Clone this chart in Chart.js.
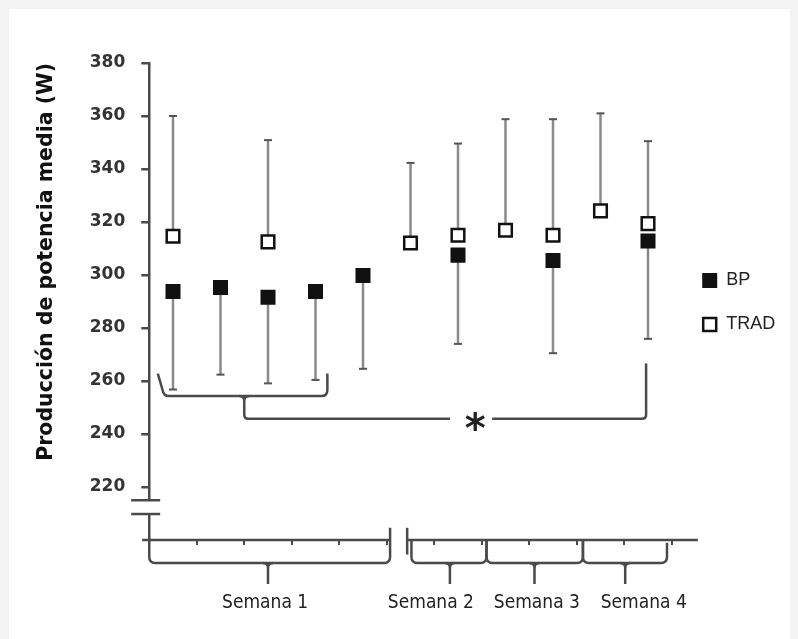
<!DOCTYPE html>
<html>
<head>
<meta charset="utf-8">
<script src="https://cdn.jsdelivr.net/npm/chart.js@4.4.1/dist/chart.umd.min.js"></script>
<style>
html,body{margin:0;padding:0;background:#f3f3f3;}
canvas{display:block;}
</style>
</head>
<body>
<canvas id="c" width="798" height="639"></canvas>
<script>
// ---- data ----
const sessions   = ['1','2','3','4','5','6','7','8','9','10','11'];
const bpMean     = [293.8, 295.3, 291.6, 293.8, 299.8, null, 307.5, null, 305.5, null, 312.8];
const bpLow      = [256.8, 262.4, 259.1, 260.4, 264.6, null, 274.0, null, 270.5, null, 275.9];
const tradMean   = [314.6, null, 312.5, null, null, 312.1, 315.0, 316.9, 315.0, 324.2, 319.4];
const tradHigh   = [360.0, null, 350.9, null, null, 342.3, 349.6, 358.8, 358.8, 361.0, 350.5];
const yTickValues = [220, 240, 260, 280, 300, 320, 340, 360, 380];
const seriesNames = ['BP', 'TRAD'];
const weekLabels  = ['Semana 1', 'Semana 2', 'Semana 3', 'Semana 4'];
const yTitle      = 'Producción de potencia media (W)';
const sigMark     = '*';

// ---- layout of decorations (category-index / value units) ----
const weekBraces = [
  {a: -0.5, b: 4.57, m: 2.0,  ta: 200, tb: 204.6, label: 1.94},
  {a: 5.02, b: 6.6,  m: 5.83, ta: 200, tb: 200,   label: 5.43},
  {a: 6.6,  b: 8.63, m: 7.61, ta: 200, tb: 200,   label: 7.66},
  {a: 8.63, b: 10.4, m: 9.52, ta: 200, tb: 199,   label: 9.91}
];

const INK = '#4a4a4a';

const decor = {
  id: 'decor',
  beforeDraw(chart) {
    const {ctx, width, height} = chart;
    ctx.save();
    ctx.fillStyle = '#f3f3f3';
    ctx.fillRect(0, 0, width, height);
    ctx.fillStyle = '#ffffff';
    ctx.fillRect(9, 9, width - 17, height - 9);
    ctx.restore();
  },
  beforeDatasetsDraw(chart) {
    const xs = chart.scales.x, ys = chart.scales.y, ctx = chart.ctx;
    ctx.save();
    const whisker = (i, from, to) => {
      const px = xs.getPixelForValue(i);
      const p1 = ys.getPixelForValue(from), p2 = ys.getPixelForValue(to);
      ctx.strokeStyle = '#8a8a8a'; ctx.lineWidth = 2.5;
      ctx.beginPath(); ctx.moveTo(px, p1); ctx.lineTo(px, p2); ctx.stroke();
      ctx.strokeStyle = '#555'; ctx.lineWidth = 2;
      ctx.beginPath(); ctx.moveTo(px - 4, p2); ctx.lineTo(px + 4, p2); ctx.stroke();
    };
    bpMean.forEach((v, i) => { if (v != null && bpLow[i] != null) whisker(i, v, bpLow[i]); });
    tradMean.forEach((v, i) => { if (v != null && tradHigh[i] != null) whisker(i, v, tradHigh[i]); });
    ctx.restore();
  },
  afterDraw(chart) {
    const xs = chart.scales.x, ys = chart.scales.y, ctx = chart.ctx;
    const X = v => xs.getPixelForValue(v), Y = v => ys.getPixelForValue(v);
    ctx.save();
    ctx.strokeStyle = INK; ctx.lineWidth = 2.5; ctx.lineCap = 'butt'; ctx.lineJoin = 'round';
    const line = (x1, y1, x2, y2) => { ctx.beginPath(); ctx.moveTo(x1, y1); ctx.lineTo(x2, y2); ctx.stroke(); };

    // y-axis break
    const yb1 = Y(215.0), yb2 = Y(209.8);
    ctx.fillStyle = '#ffffff';
    ctx.fillRect(X(-0.5) - 4, yb1, 8, yb2 - yb1);
    line(X(-0.88), yb1, X(-0.27), yb1);
    line(X(-0.88), yb2, X(-0.27), yb2);

    // x-axis line with break
    const y0 = Y(200);
    line(X(-0.65), y0, X(4.57), y0);
    line(X(4.93), y0, X(11.05), y0);
    line(X(4.93), Y(204.6), X(4.93), Y(194.5));

    // week braces
    const yh = Y(191.3), yt = Y(183.4), r = 6;
    weekBraces.forEach(w => {
      const xa = X(w.a), xb = X(w.b), xm = X(w.m);
      ctx.beginPath();
      ctx.moveTo(xa, Y(w.ta));
      ctx.lineTo(xa, yh - r);
      ctx.quadraticCurveTo(xa, yh, xa + r, yh);
      ctx.lineTo(xb - r, yh);
      ctx.quadraticCurveTo(xb, yh, xb, yh - r);
      ctx.lineTo(xb, Y(w.tb));
      ctx.stroke();
      ctx.beginPath();
      ctx.moveTo(xm - 5, yh); ctx.quadraticCurveTo(xm, yh, xm, yh + 5);
      ctx.moveTo(xm + 5, yh); ctx.quadraticCurveTo(xm, yh, xm, yh + 5);
      ctx.lineTo(xm, yt);
      ctx.stroke();
    });

    // significance bracket
    const yBot = Y(254.3), ySig = Y(245.8);
    ctx.beginPath();
    ctx.moveTo(X(-0.32), Y(262.8));
    ctx.lineTo(X(-0.22), Y(256.6));
    ctx.quadraticCurveTo(X(-0.2), yBot, X(-0.08), yBot);
    ctx.lineTo(X(3.12), yBot);
    ctx.quadraticCurveTo(X(3.25), yBot, X(3.25), Y(256.6));
    ctx.lineTo(X(3.25), Y(262.8));
    ctx.stroke();
    const xm = X(1.5);
    ctx.beginPath();
    ctx.moveTo(xm - 5, yBot); ctx.quadraticCurveTo(xm, yBot, xm, yBot + 5);
    ctx.moveTo(xm + 5, yBot); ctx.quadraticCurveTo(xm, yBot, xm, yBot + 5);
    ctx.lineTo(xm, ySig - 4);
    ctx.quadraticCurveTo(xm, ySig, xm + 4, ySig);
    ctx.lineTo(X(5.83), ySig);
    ctx.stroke();
    ctx.beginPath();
    ctx.moveTo(X(6.72), ySig);
    ctx.lineTo(X(9.96) - 4, ySig);
    ctx.quadraticCurveTo(X(9.96), ySig, X(9.96), ySig - 4);
    ctx.lineTo(X(9.96), Y(266.6));
    ctx.stroke();

    // asterisk
    ctx.fillStyle = '#222';
    ctx.font = 'bold 40px "DejaVu Sans"';
    ctx.textAlign = 'center';
    ctx.textBaseline = 'alphabetic';
    ctx.fillText(sigMark, X(6.36), Y(244.3) + 19);

    // week labels
    ctx.fillStyle = '#222';
    ctx.font = '19px "DejaVu Sans Condensed", "DejaVu Sans", sans-serif';
    weekBraces.forEach((w, k) => ctx.fillText(weekLabels[k], X(w.label), y0 + 68));
    ctx.restore();
  }
};

new Chart(document.getElementById('c'), {
  type: 'line',
  data: {
    labels: sessions,
    datasets: [
      {
        label: seriesNames[0], data: bpMean, showLine: false,
        pointStyle: 'rect', pointRadius: 9.2, pointHoverRadius: 9.2,
        pointBackgroundColor: '#111', pointBorderColor: '#111', pointBorderWidth: 2,
        backgroundColor: '#111', borderColor: '#111', borderWidth: 2
      },
      {
        label: seriesNames[1], data: tradMean, showLine: false,
        pointStyle: 'rect', pointRadius: 8.9, pointHoverRadius: 8.9,
        pointBackgroundColor: '#fff', pointBorderColor: '#111', pointBorderWidth: 2.5,
        backgroundColor: '#fff', borderColor: '#111', borderWidth: 2.5
      }
    ]
  },
  options: {
    responsive: false,
    animation: false,
    events: [],
    devicePixelRatio: 1,
    layout: { padding: { top: 63, bottom: 97, left: 0, right: 12.8 } },
    plugins: {
      tooltip: { enabled: false },
      legend: {
        position: 'right',
        align: 'center',
        labels: {
          usePointStyle: true, boxWidth: 15, boxHeight: 13, padding: 26,
          color: '#222', font: { family: '"Liberation Sans", Arial, sans-serif', size: 18 }
        }
      }
    },
    scales: {
      x: {
        type: 'category', offset: true,
        grid: { offset: true, display: true, drawOnChartArea: false, drawTicks: true, tickLength: 5, color: INK, lineWidth: 2 },
        border: { display: false },
        ticks: { display: false },
        afterFit(s) { s.height = 2; }
      },
      y: {
        type: 'linear', min: 200, max: 380,
        afterBuildTicks(s) { s.ticks = yTickValues.map(v => ({ value: v })); },
        grid: { drawOnChartArea: false, drawTicks: true, tickLength: 8, color: INK, lineWidth: 2.5 },
        border: { display: true, color: INK, width: 2.5 },
        ticks: { padding: 16, color: '#333', font: { family: '"DejaVu Sans"', weight: 'bold', size: 17 } },
        title: {
          display: true, text: yTitle, align: 'end', color: '#111',
          font: { family: '"DejaVu Sans"', weight: 'bold', size: 20.5 },
          padding: { top: 34, bottom: 0 }
        },
        afterFit(s) { s.width = 149.25; }
      },
      yPad: {
        type: 'linear', position: 'right', display: true,
        grid: { display: false }, border: { display: false }, ticks: { display: false },
        afterFit(s) { s.width = 4.45; }
      }
    }
  },
  plugins: [decor]
});
</script>
</body>
</html>
